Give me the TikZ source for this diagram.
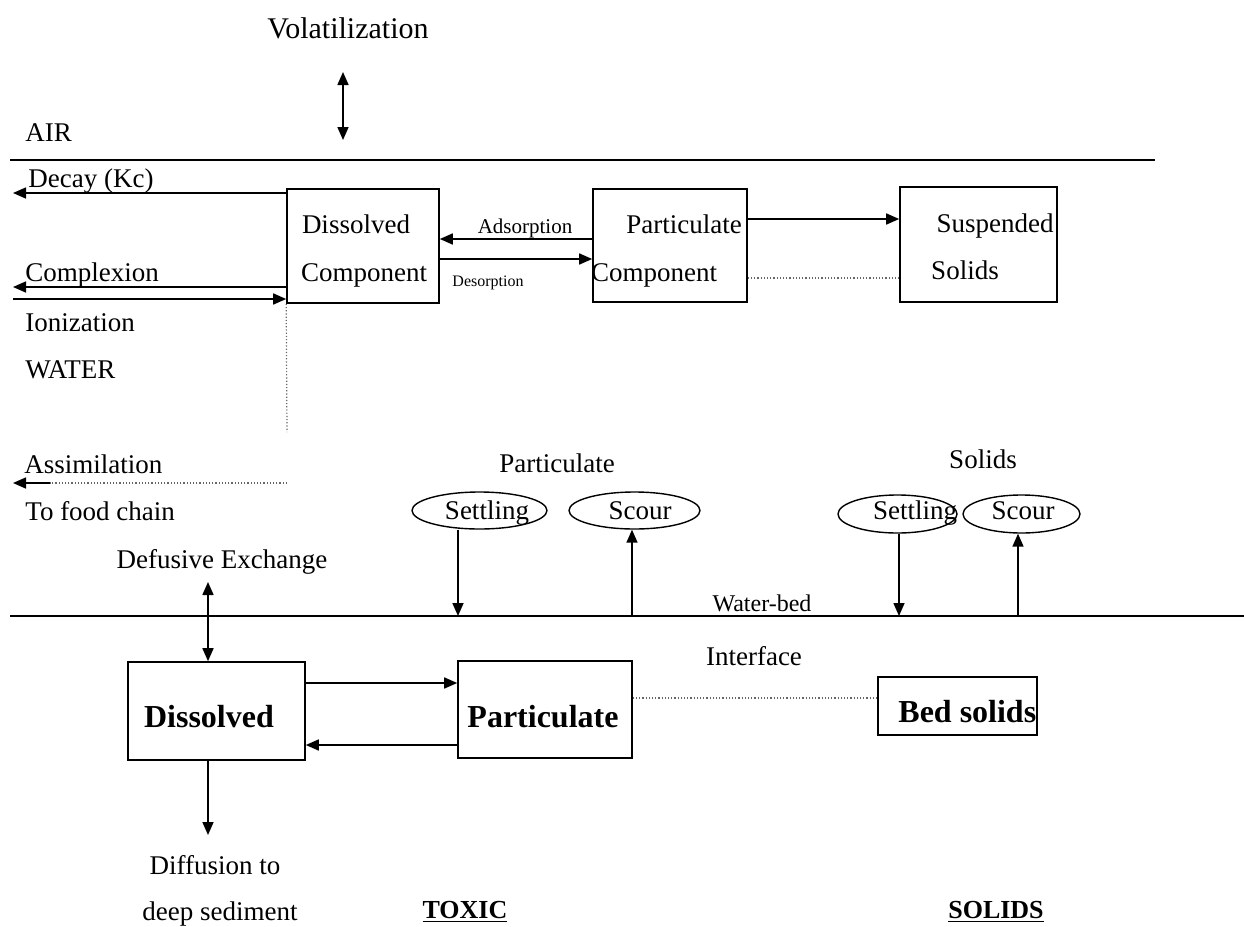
\documentclass[tikz,border=0pt]{standalone}
\usepackage{fontspec}
\setmainfont{Liberation Serif}
\usetikzlibrary{arrows.meta,positioning,shapes.geometric}

\begin{document}
\begin{tikzpicture}[x=0.5pt,y=-0.5pt,
    txt/.style={font=\fontsize{13.5}{16}\selectfont,inner sep=0pt,anchor=base},
    big/.style={font=\fontsize{16}{19}\selectfont\bfseries,inner sep=0pt,anchor=base},
    box/.style={draw,line width=0.8pt,inner sep=0pt},
    oval/.style={draw,ellipse,line width=0.7pt,inner sep=0pt},
    arr/.style={line width=0.8pt,-{Triangle[length=6.5pt,width=5.5pt]}},
    arrtwo/.style={line width=0.8pt,{Triangle[length=6.5pt,width=5.5pt]}-{Triangle[length=6.5pt,width=5.5pt]}},
    dots/.style={gray!80!black,densely dotted,line width=0.6pt}]
  \useasboundingbox (0,0) rectangle (1244,927);

  % air / water surface
  \node[txt,font=\fontsize{15}{18}\selectfont] (vol) at (348,38) {Volatilization};
  \coordinate (vtop) at (343,72);
  \coordinate (vbot) at (343,140);
  \draw[arrtwo] (vtop) -- (vbot);
  \node[txt,anchor=base west] (air) at (25,141) {AIR};
  \coordinate (surfL) at (10,160);
  \coordinate (surfR) at (1155,160);
  \draw[line width=1pt] (surfL) -- (surfR);

  % water column boxes
  \node[box,minimum width=76pt,minimum height=57pt] (dc) at (363,246) {};
  \node[txt] (dctop) at (356,233) {Dissolved};
  \node[txt] (dcbot) at (364,281) {Component};
  \node[box,minimum width=77pt,minimum height=56.5pt] (pc) at (670,245.5) {};
  \node[txt] (pctop) at (684,233) {Particulate};
  \node[txt] (pcbot) at (654,281) {Component};
  \node[box,minimum width=78.5pt,minimum height=57.5pt] (ss) at (978.5,244.5) {};
  \node[txt] (sstop) at (995,232) {Suspended};
  \node[txt] (ssbot) at (965,279) {Solids};

  \draw[arr] (pc.west |- 0,239) -- (dc.east |- 0,239);
  \node[txt,font=\fontsize{10.5}{12}\selectfont] (ads) at (525,233) {Adsorption};
  \draw[arr] (dc.east |- 0,259) -- (pc.west |- 0,259);
  \node[txt,font=\fontsize{8}{10}\selectfont] (des) at (488,286) {Desorption};
  \draw[arr] (pc.east |- 0,219) -- (ss.west |- 0,219);
  \draw[dots] (pc.east |- 0,278) -- (ss.west |- 0,278);

  % losses on the left
  \node[txt,anchor=base west] (decay) at (28,187) {Decay (Kc)};
  \coordinate (decayend) at (13,193);
  \draw[arr] (decayend -| dc.west) -- (decayend);
  \node[txt,anchor=base west] (cplx) at (25,281) {Complexion};
  \coordinate (cplxend) at (13,287);
  \draw[arr] (cplxend -| dc.west) -- (cplxend);
  \coordinate (ionstart) at (13,299);
  \draw[arr] (ionstart) -- (ionstart -| dc.west);
  \node[txt,anchor=base west] (ion) at (25,331) {Ionization};
  \node[txt,anchor=base west] (water) at (25,378) {WATER};
  \coordinate (dcdrop) at (287,432);
  \draw[dots] (dc.south west) -- (dcdrop);

  \node[txt,anchor=base west] (assim) at (24,473) {Assimilation};
  \coordinate (assimS) at (287,483);
  \coordinate (assimM) at (50,483);
  \coordinate (assimE) at (13,483);
  \draw[dots] (assimS) -- (assimM);
  \draw[arr] (assimM) -- (assimE);
  \node[txt,anchor=base west] (food) at (25,520) {To food chain};

  % settling and scour
  \node[txt] (partlbl) at (557,472) {Particulate};
  \node[oval,minimum width=67.5pt,minimum height=18.5pt] (pset) at (479.5,510.5) {};
  \node[txt] (psettxt) at (487,519) {Settling};
  \node[oval,minimum width=65.5pt,minimum height=18.5pt] (pscour) at (634.5,510.5) {};
  \node[txt] (pscourtxt) at (640,519) {Scour};
  \node[txt] (sollbl) at (983,468) {Solids};
  \node[oval,minimum width=59.5pt,minimum height=19pt] (sset) at (897.5,514) {};
  \node[txt] (ssettxt) at (915,519) {Settling};
  \node[oval,minimum width=58.5pt,minimum height=19pt] (sscour) at (1021.5,514) {};
  \node[txt] (sscourtxt) at (1023,519) {Scour};

  \coordinate (psb) at (458,616);
  \draw[arr] (psb |- pset.south) -- (psb);
  \coordinate (pcb) at (632,616);
  \draw[arr] (pcb) -- (pcb |- pscour.south);
  \coordinate (ssb) at (899,616);
  \draw[arr] (ssb |- sset.south) -- (ssb);
  \coordinate (scb) at (1018,616);
  \draw[arr] (scb) -- (scb |- sscour.south);

  % water-bed interface
  \coordinate (bedL) at (10,616);
  \coordinate (bedR) at (1244,616);
  \draw[line width=1pt] (bedL) -- (bedR);
  \node[txt,font=\fontsize{12}{14}\selectfont] (wbed) at (762,611) {Water-bed};
  \node[txt] (iface) at (754,665) {Interface};
  \node[txt] (defx) at (222,568) {Defusive Exchange};

  % bed boxes
  \node[box,minimum width=88.5pt,minimum height=49pt] (bd) at (216.5,711) {};
  \node[big] (bdtxt) at (209,727) {Dissolved};
  \node[box,minimum width=87pt,minimum height=48.5pt] (bp) at (545,709.5) {};
  \node[big] (bptxt) at (543,727) {Particulate};
  \node[box,minimum width=79.5pt,minimum height=29pt] (bs) at (957.5,706) {};
  \node[big,anchor=base west] (bstxt) at (898,722) {Bed solids};

  \coordinate (dfx) at (208,582);
  \draw[arrtwo] (dfx) -- (dfx |- bd.north);
  \draw[arr] (bd.east |- 0,683) -- (bp.west |- 0,683);
  \draw[arr] (bp.west |- 0,745) -- (bd.east |- 0,745);
  \draw[dots] (bp.east |- 0,698) -- (bs.west |- 0,698);
  \coordinate (diffend) at (208,835);
  \draw[arr] (diffend |- bd.south) -- (diffend);

  \node[txt] (diff) at (215,874) {Diffusion to};
  \node[txt] (deep) at (220,920) {deep sediment};
  \node[txt,font=\fontsize{13}{15}\selectfont\bfseries] (toxic) at (465,918) {\underline{TOXIC}};
  \node[txt,font=\fontsize{13}{15}\selectfont\bfseries] (solids) at (996,918) {\underline{SOLIDS}};
\end{tikzpicture}
\end{document}
